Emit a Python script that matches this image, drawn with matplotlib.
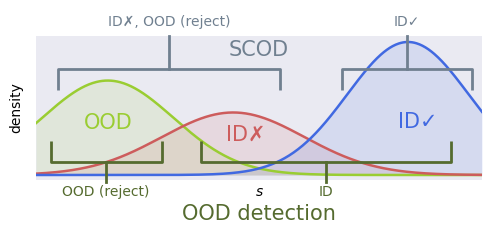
import numpy as np
import matplotlib.pyplot as plt

# Componentes: (media, sigma, altura)
nombres = ["OOD", "ID✗", "ID✓"]
medias = [1.61, 4.42, 8.34]
sigmas = [1.47, 1.60, 1.36]
alturas = [0.71, 0.47, 1.0]
colores = ["yellowgreen", "indianred", "royalblue"]

# Corchetes SCOD (arriba) y OOD detection (abajo): (izq, der, tallo, etiqueta)
corchetes_scod = [(0.49, 5.47, 2.98, "ID✗, OOD (reject)"),
                  (6.86, 9.78, 8.32, "ID✓")]
corchetes_ood = [(0.34, 2.83, 1.57, "OOD (reject)"),
                 (3.70, 9.30, 6.50, "ID")]

x = np.linspace(0, 10, 600)

fig = plt.figure(figsize=(4.98, 2.49), dpi=100)
ax = fig.add_axes([36/498, 69/249, 446/498, 144/249])
ax.set_facecolor("#eaeaf2")
for s in ax.spines.values():
    s.set_visible(False)
ax.set_xticks([])
ax.set_yticks([])
ax.set_xlim(0, 10)
ax.set_ylim(-0.0376, 1.045)

for m, sg, h, c in zip(medias, sigmas, alturas, colores):
    y = h * np.exp(-(x - m)**2 / (2 * sg**2))
    ax.fill_between(x, 0, y, color=c, alpha=0.12, lw=0)
    ax.plot(x, y, color=c, lw=1.8)

# etiquetas dentro de las curvas
ax.text(1.61, 0.39, "OOD", color="yellowgreen", fontsize=15, ha="center", va="center")
ax.text(4.70, 0.30, "ID✗", color="indianred", fontsize=15, ha="center", va="center")
ax.text(8.57, 0.40, "ID✓", color="royalblue", fontsize=15, ha="center", va="center")

# corchetes SCOD
gris = "slategray"
for a, b, t, lab in corchetes_scod:
    ax.plot([a, a, b, b], [0.639, 0.797, 0.797, 0.639], color=gris, lw=2,
            clip_on=False, solid_capstyle="butt")
    ax.plot([t, t], [0.797, 1.045], color=gris, lw=2, clip_on=False)
    ax.text(t, 1.095, lab, color=gris, fontsize=10, ha="center", va="bottom")
ax.text(5.0, 0.94, "SCOD", color=gris, fontsize=15, ha="center", va="center")

# corchetes OOD detection
verde = "darkolivegreen"
for a, b, t, lab in corchetes_ood:
    ax.plot([a, a, b, b], [0.256, 0.098, 0.098, 0.256], color=verde, lw=2,
            clip_on=False, solid_capstyle="butt")
    ax.plot([t, t], [0.098, -0.053], color=verde, lw=2, clip_on=False)
    ax.text(t, -0.075, lab, color=verde, fontsize=10, ha="center", va="top")

ax.text(5.0, -0.075, "$s$", fontsize=10, ha="center", va="top")
ax.set_xlabel("OOD detection", color=verde, fontsize=15, labelpad=17)
ax.set_ylabel("density", fontsize=10, labelpad=9)

fig.savefig("out.png", dpi=100)
